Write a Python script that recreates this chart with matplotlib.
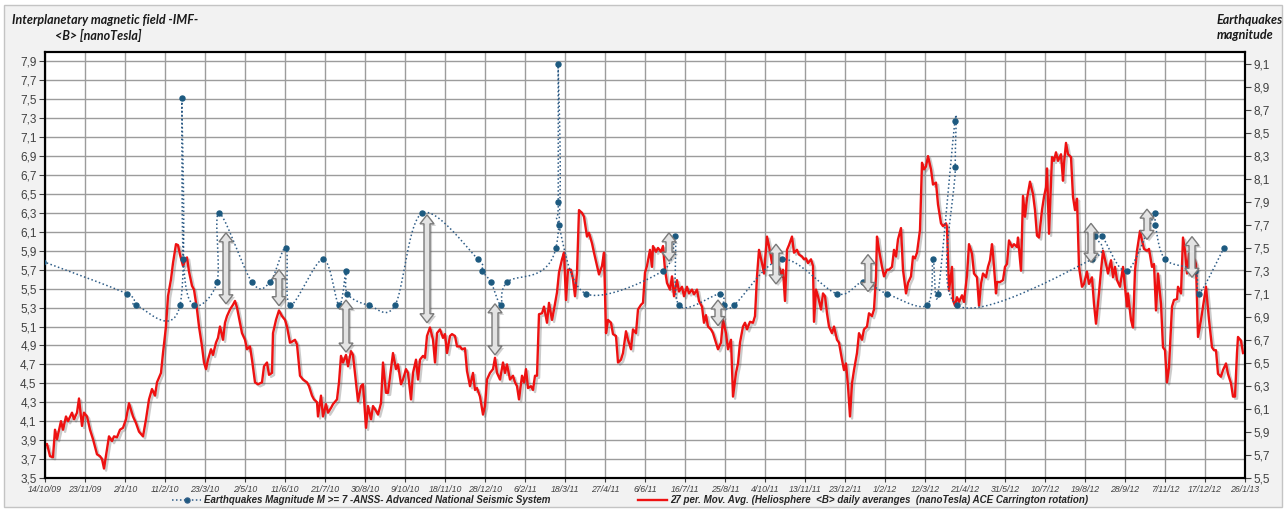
import numpy as np
import matplotlib.pyplot as plt
import matplotlib.patheffects as pe
from matplotlib.patches import Polygon, Rectangle
from matplotlib.lines import Line2D
from datetime import date, timedelta

START = date(2009, 10, 14)

# 27 day moving average of IMF <B> (nT); day offset from 14/10/09
imf_day = [0, 2, 5, 8, 10, 12, 16, 18, 21, 23, 27, 29, 32, 34, 37, 39, 42, 45, 48, 52,
           55, 57, 59, 62, 64, 67, 69, 72, 75, 78, 81, 84, 88, 91, 94, 98, 101, 104, 107, 110,
           112, 116, 118, 121, 123, 126, 128, 131, 133, 135, 138, 140, 142, 144, 147, 149, 152, 154, 157, 159,
           161, 163, 166, 168, 171, 173, 175, 178, 180, 182, 185, 188, 190, 192, 195, 197, 200, 202, 205, 207,
           210, 213, 217, 219, 222, 224, 227, 228, 231, 234, 237, 240, 242, 245, 247, 250, 252, 255, 258, 262,
           264, 267, 269, 272, 273, 276, 278, 281, 283, 286, 288, 292, 294, 296, 298, 301, 303,
           306, 308, 311, 313, 316, 318, 321, 323, 326, 328, 331, 333, 336, 338, 341, 343, 346, 348, 351,
           353, 356, 358, 361, 363, 366, 368, 371, 373, 375, 378, 380, 382, 385, 388, 390, 392, 395, 398, 400,
           402, 405, 407, 410, 412, 415, 417, 420, 422, 425, 428, 430, 432, 435, 438, 440, 442, 445, 448, 450,
           452, 455, 458, 460, 462, 465, 468, 470, 472, 474, 477, 479, 481, 483, 486, 488, 490, 492, 494, 497,
           499, 502, 504, 507, 509, 512, 514, 517, 519, 521, 523, 526, 528, 530, 532, 534, 537, 539, 542, 544,
           547, 549, 552, 554, 557, 559, 561, 563, 566, 568, 571, 573, 576, 578, 581, 583, 586, 588, 591, 593,
           596, 598, 600, 602, 605,
           607, 608, 611, 613, 616, 618, 620, 622, 625, 627, 629, 632, 634, 637, 639, 642, 644, 647, 649, 652,
           654, 657, 659, 661, 663, 666, 668, 671, 673, 676, 678, 681, 683, 686, 688, 691, 693, 695, 698, 700,
           702, 705, 708, 710, 712, 714, 717, 719, 722, 724, 727, 729, 732, 734, 737, 738, 740, 742, 744, 747,
           749, 752, 754, 757, 759, 761, 763, 766, 768, 769, 771, 773, 776, 778, 780, 782, 784, 787, 789, 792,
           794, 797, 799, 801, 803, 805, 807, 809, 812, 814, 817, 819, 822, 824, 827, 829, 831, 832, 834, 837,
           839, 842, 844, 847, 849, 851, 853, 856, 858, 861, 863, 866, 868, 870, 872, 875, 877, 879, 881, 883,
           886, 888, 891, 893, 896, 898, 901,
           902, 904, 907, 908, 910, 912, 914, 917, 919, 922, 924, 927, 929, 932, 934, 936, 938, 941, 943, 945,
           947, 948, 951, 952, 955, 958, 960, 962, 964, 967, 969, 972, 973, 976, 978, 980, 982, 985, 988, 990,
           992, 994, 997, 999, 1001, 1002, 1004, 1007, 1009, 1011, 1013, 1016, 1018, 1019, 1021, 1023, 1026, 1028, 1030, 1032,
           1034, 1037, 1039, 1042, 1044, 1047, 1049, 1051, 1053, 1056, 1058, 1061, 1063, 1066, 1068, 1070, 1072, 1075, 1078, 1080,
           1082, 1083, 1086, 1088, 1090, 1092, 1095, 1097, 1099, 1102, 1104, 1107, 1109, 1111, 1113, 1116, 1118, 1120, 1122, 1124,
           1127, 1129, 1132, 1133, 1136, 1138, 1140, 1142, 1144, 1147, 1149, 1151, 1153, 1156, 1158, 1161, 1164, 1167, 1169, 1171,
           1173, 1176, 1178, 1181, 1183, 1186, 1188, 1190, 1192, 1193, 1196, 1198]
imf_val = [3.84, 3.86, 3.73, 3.72, 4.01, 3.91, 4.10, 4.01, 4.15, 4.10, 4.19, 4.12, 4.19, 4.34, 4.05, 4.19, 4.15, 4.01, 3.91, 3.75,
           3.73, 3.70, 3.60, 3.80, 3.94, 3.89, 3.94, 3.93, 4.01, 4.03, 4.12, 4.29, 4.15, 4.08, 3.99, 3.94, 4.12, 4.33, 4.44, 4.37,
           4.51, 4.61, 4.82, 5.10, 5.42, 5.60, 5.77, 5.97, 5.96, 5.86, 5.74, 5.79, 5.83, 5.68, 5.53, 5.49, 5.28, 5.10, 4.89, 4.72,
           4.65, 4.75, 4.86, 4.80, 4.93, 4.98, 5.10, 4.96, 5.14, 5.21, 5.28, 5.33, 5.37, 5.30, 5.14, 5.03, 4.96, 4.86, 4.89, 4.75,
           4.51, 4.49, 4.51, 4.68, 4.72, 4.59, 4.61, 5.03, 5.17, 5.27, 5.21, 5.17, 5.10, 4.93, 4.94, 4.96, 4.91, 4.58, 4.54, 4.51,
           4.47, 4.37, 4.33, 4.30, 4.15, 4.37, 4.15, 4.28, 4.19, 4.24, 4.28, 4.33, 4.51, 4.79, 4.72, 4.80, 4.68,
           4.84, 4.80, 4.51, 4.31, 4.47, 4.49, 4.03, 4.26, 4.12, 4.26, 4.21, 4.17, 4.29, 4.72, 4.40, 4.40, 4.65, 4.82, 4.65,
           4.70, 4.49, 4.54, 4.65, 4.61, 4.33, 4.61, 4.75, 4.54, 4.75, 4.79, 4.77, 5.00, 5.09, 4.96, 4.72, 5.03, 5.07, 4.98, 5.02,
           4.82, 5.00, 5.02, 5.00, 4.89, 4.89, 4.86, 4.87, 4.63, 4.47, 4.61, 4.43, 4.45, 4.36, 4.17, 4.26, 4.54, 4.61, 4.65, 4.77,
           4.61, 4.54, 4.72, 4.61, 4.70, 4.54, 4.58, 4.51, 4.47, 4.33, 4.58, 4.51, 4.65, 4.45, 4.47, 4.43, 4.58, 4.58, 5.23, 5.24,
           5.31, 5.14, 5.35, 5.17, 5.28, 5.46, 5.67, 5.81, 5.88, 5.38, 5.70, 5.70, 5.60, 5.42, 5.67, 6.33, 6.30, 6.26, 6.05, 6.09,
           5.98, 5.88, 5.74, 5.65, 5.74, 5.88, 5.03, 5.17, 5.14, 5.02, 5.00, 4.72, 4.75, 4.82, 5.05, 4.96, 4.86, 5.07, 5.03, 5.28,
           5.33, 5.35, 5.67, 5.74, 5.91,
           5.73, 5.95, 5.89, 5.93, 5.89, 5.95, 5.70, 5.56, 5.49, 5.63, 5.42, 5.59, 5.47, 5.52, 5.42, 5.52, 5.45, 5.49, 5.44, 5.49,
           5.37, 5.31, 5.14, 5.22, 5.10, 5.07, 5.03, 4.93, 4.86, 4.93, 5.17, 5.03, 4.86, 4.96, 4.36, 4.61, 4.71, 4.93, 5.10, 5.14,
           5.07, 5.15, 5.14, 5.21, 5.63, 5.91, 5.77, 5.66, 6.05, 5.95, 5.77, 5.91, 5.70, 5.73, 5.63, 5.70, 5.37, 5.91, 5.96, 6.05,
           5.88, 5.91, 5.86, 5.84, 5.81, 5.82, 5.77, 5.81, 5.74, 5.15, 5.49, 5.42, 5.28, 5.45, 5.42, 5.24, 5.10, 5.03, 5.10, 4.96,
           4.93, 4.75, 4.64, 4.71, 4.47, 4.15, 4.50, 4.64, 4.82, 5.03, 4.96, 5.07, 5.10, 5.24, 5.21, 5.28, 5.63, 6.05, 5.91, 5.73,
           5.63, 5.70, 5.70, 5.73, 5.91, 5.84, 6.02, 6.14, 5.70, 5.45, 5.56, 5.63, 5.84, 5.82, 5.88, 6.12, 6.83, 6.76, 6.79, 6.90,
           6.76, 6.60, 6.62, 6.39, 6.19, 6.16, 6.19,
           6.15, 5.48, 5.73, 5.38, 5.32, 5.41, 5.36, 5.43, 5.36, 5.64, 5.97, 5.87, 5.66, 5.62, 5.32, 5.55, 5.66, 5.62, 5.73, 5.80,
           5.97, 5.87, 5.45, 5.57, 5.57, 5.59, 5.73, 5.76, 6.01, 5.94, 5.97, 5.94, 6.04, 5.69, 6.48, 6.26, 6.45, 6.63, 6.50, 6.33,
           6.06, 6.04, 6.33, 6.47, 6.57, 6.77, 6.08, 6.89, 6.85, 6.94, 6.85, 6.92, 6.64, 6.82, 7.04, 6.92, 6.89, 6.47, 6.33, 6.45,
           5.73, 5.52, 5.55, 5.68, 5.55, 5.62, 5.34, 5.13, 5.34, 5.69, 5.90, 5.76, 5.66, 5.80, 5.62, 5.73, 5.59, 5.52, 5.73, 5.52,
           5.31, 5.45, 5.17, 5.09, 5.69, 5.90, 6.11, 6.01, 5.92, 5.90, 5.92, 5.73, 5.76, 5.27, 5.66, 5.34, 4.88, 4.85, 4.51, 4.67,
           5.31, 5.38, 5.39, 5.52, 5.45, 6.04, 5.90, 5.66, 5.87, 5.80, 5.82, 5.76, 4.99, 5.17, 5.31, 5.52, 5.17, 4.88, 4.85, 4.85,
           4.60, 4.57, 4.64, 4.71, 4.60, 4.50, 4.36, 4.36, 4.82, 4.99, 4.95, 4.82]

# M >= 7 earthquakes (ANSS): day offset from 14/10/09 and magnitude
eq_day = [-2, 82, 91, 135, 136.7, 138.3, 149, 172, 174, 207, 225, 241, 245, 278, 294, 301, 302.3,
          324, 350, 377, 433, 437, 446, 456, 462, 511, 513, 513.3, 513.6, 541, 618, 630, 634,
          675, 679, 689, 737, 792, 818, 842, 882, 888, 893, 910, 910.3, 912,
          1047, 1050, 1057, 1082, 1110, 1110.3, 1120, 1150, 1154, 1179]
eq_mag = [7.38, 7.1, 7.0, 7.0, 8.8, 7.4, 7.0, 7.2, 7.8, 7.2, 7.2, 7.5, 7.0, 7.4, 7.0, 7.3, 7.1,
          7.0, 7.0, 7.8, 7.4, 7.3, 7.2, 7.0, 7.2, 7.5, 9.1, 7.9, 7.7, 7.1, 7.3, 7.6, 7.0,
          7.1, 7.0, 7.0, 7.4, 7.1, 7.2, 7.1, 7.0, 7.4, 7.1, 8.6, 8.2, 7.0,
          7.4, 7.6, 7.6, 7.3, 7.8, 7.7, 7.4, 7.3, 7.1, 7.5]

# grey double arrows (day, upper and lower IMF value)
arrow_day = [181, 234, 301, 382, 450, 624, 673, 731, 823, 1046, 1102, 1147]
arrow_top = [6.09, 5.70, 5.38, 6.28, 5.34, 6.09, 5.38, 5.97, 5.86, 6.19, 6.34, 6.05]
arrow_bot = [5.34, 5.32, 4.83, 5.14, 4.80, 5.79, 5.11, 5.55, 5.47, 5.78, 6.02, 5.62]

tick_days = list(range(0, 1201, 40))


def smooth_curve(x, y, yscale, n=24):
    # Bezier smoothing through every point, like a spreadsheet "smoothed line"
    p = np.column_stack([np.asarray(x, float), np.asarray(y, float) * yscale])
    p = np.vstack([p[0], p, p[-1]])
    t = np.linspace(0, 1, n)[:, None]
    segs = []
    for i in range(1, len(p) - 2):
        p0, p1, p2, p3 = p[i - 1], p[i], p[i + 1], p[i + 2]
        c1 = p1 + (p2 - p0) / 6
        c2 = p2 - (p3 - p1) / 6
        segs.append((1 - t) ** 3 * p1 + 3 * (1 - t) ** 2 * t * c1 + 3 * (1 - t) * t ** 2 * c2 + t ** 3 * p2)
    c = np.vstack(segs)
    return c[:, 0], c[:, 1] / yscale


W, H = 1286, 511
fig = plt.figure(figsize=(W / 100, H / 100), dpi=100)
fig.patch.set_facecolor('white')
fig.add_artist(Rectangle((4 / W, 4 / H), 1278 / W, 502 / H, transform=fig.transFigure,
                         facecolor='#f2f2f2', edgecolor='#c4c4c4', lw=1, zorder=-10))

ax = fig.add_axes([45 / W, 33 / H, 1200 / W, 426 / H])
ax.set_facecolor('white')
ax2 = ax.twinx()

ax.set_xlim(0, 1200)
ax.set_ylim(3.5, 8.0)
ax2.set_ylim(5.5, 9.2)

left_ticks = np.round(np.arange(3.5, 7.95, 0.2), 1)
right_ticks = np.round(np.arange(5.5, 9.15, 0.2), 1)
ax.set_yticks(left_ticks)
ax.set_yticklabels([f'{v:.1f}'.replace('.', ',') for v in left_ticks])
ax2.set_yticks(right_ticks)
ax2.set_yticklabels([f'{v:.1f}'.replace('.', ',') for v in right_ticks])
ax.set_xticks(tick_days)
labels = []
for d in tick_days:
    dt = START + timedelta(days=d)
    labels.append(f'{dt.day}/{dt.month}/{dt.year % 100:02d}')
ax.set_xticklabels(labels, fontsize=6.3, style='italic', family='Liberation Sans', color='#404040')

for a in (ax, ax2):
    a.tick_params(axis='y', labelsize=8.5, colors='#404040', length=4, width=0.8, pad=2)
    for s in a.spines.values():
        s.set_color('black')
        s.set_linewidth(1.5)
ax.tick_params(axis='x', length=3, width=0.8, colors='#404040', pad=2)
for lbl in ax.get_yticklabels() + ax2.get_yticklabels():
    lbl.set_family('Liberation Sans')

ax.grid(True, color='#9c9c9c', lw=1.0)
ax.set_axisbelow(True)

# IMF moving average
ax.plot(imf_day, imf_val, color='#ee1111', lw=1.7, zorder=3,
        path_effects=[pe.SimpleLineShadow(offset=(1.5, -1.5), shadow_color='#555555', alpha=0.3), pe.Normal()])

# earthquakes
sx, sy = smooth_curve(eq_day, eq_mag, 115.1)
ax2.plot(sx, sy, ls=(0, (1, 1.6)), color='#2f5d87', lw=1.1, zorder=4)
ax2.plot(eq_day, eq_mag, ls='none', marker='o', ms=3.6, color='#1d5a80', zorder=5)

# double arrows, drawn in left-axis units
ws, wh, hl = 3.0, 7.0, 0.095
for x, top, bot in zip(arrow_day, arrow_top, arrow_bot):
    pts = [(x, top), (x + wh, top - hl), (x + ws, top - hl), (x + ws, bot + hl), (x + wh, bot + hl),
           (x, bot), (x - wh, bot + hl), (x - ws, bot + hl), (x - ws, top - hl), (x - wh, top - hl)]
    arr = Polygon(pts, closed=True, transform=ax.transData, facecolor='#e3e3e3', edgecolor='#7a7a7a',
                  lw=1.0, zorder=6,
                  path_effects=[pe.SimplePatchShadow(offset=(1.5, -1.5), alpha=0.25), pe.Normal()])
    ax2.add_patch(arr)

title_font = dict(family='Lato', weight='bold', style='italic', size=9, color='#1a1a1a')
fig.text(12 / W, 1 - 20 / H, 'Interplanetary magnetic field -IMF-', va='center', ha='left', **title_font)
fig.text(55 / W, 1 - 35 / H, '<B> [nanoTesla]', va='center', ha='left', **title_font)
fig.text(1217 / W, 1 - 20 / H, 'Earthquakes', va='center', ha='left', **title_font)
fig.text(1217 / W, 1 - 35 / H, 'magnitude', va='center', ha='left', **title_font)

handles = [Line2D([], [], ls=(0, (1, 1.6)), color='#2f5d87', lw=1.1, marker='o', ms=3.6, markerfacecolor='#1d5a80'),
           Line2D([], [], color='#ee1111', lw=1.7)]
names = ['Earthquakes Magnitude M >= 7 -ANSS- Advanced National Seismic System',
         '27 per. Mov. Avg. (Heliosphere  <B> daily averanges  (nanoTesla) ACE Carrington rotation)']
fig.legend(handles, names, loc='center', bbox_to_anchor=(630 / W, 11 / H), ncol=2, frameon=False,
           prop=dict(family='Liberation Sans', weight='bold', style='italic', size=7),
           labelcolor='#262626', handlelength=3.0, handletextpad=0.3, columnspacing=9, numpoints=1)

fig.savefig('out.png', dpi=100, facecolor=fig.get_facecolor())
